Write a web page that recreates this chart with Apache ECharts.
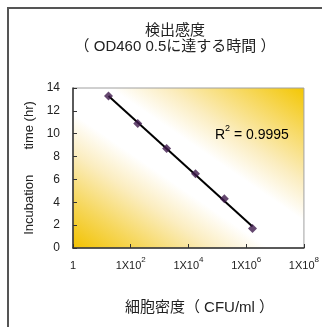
<!DOCTYPE html>
<html><head><meta charset="utf-8">
<script src="https://cdn.jsdelivr.net/npm/echarts@6/dist/echarts.min.js"></script>
<style>html,body{margin:0;padding:0;background:#fff}#c{width:322px;height:327px}</style>
</head><body><div id="c"></div>
<script>
// Data
const cellDensity = [17, 175, 1750, 17500, 175000, 1650000]; // CFU/ml
const incubationTime = [13.3, 10.9, 8.7, 6.5, 4.3, 1.7];     // hr
const xTickExponents = [0, 2, 4, 6, 8];
const yTicks = [0, 2, 4, 6, 8, 10, 12, 14];
const r2Text = '0.9995';

// linear fit of time vs log10(density)
const lx = cellDensity.map(v => Math.log10(v));
const n = lx.length;
const mx = lx.reduce((a,b)=>a+b,0)/n;
const my = incubationTime.reduce((a,b)=>a+b,0)/n;
let sxy=0,sxx=0;
for(let i=0;i<n;i++){sxy+=(lx[i]-mx)*(incubationTime[i]-my);sxx+=(lx[i]-mx)**2;}
const slope=sxy/sxx, icpt=my-slope*mx;
const fitLine=[cellDensity[0],cellDensity[n-1]].map(v=>[v, icpt+slope*Math.log10(v)]);

const FONT = '"Liberation Sans", Arial, "Noto Sans CJK JP", sans-serif';
const chart = echarts.init(document.getElementById('c'), null, {renderer:'canvas'});
const bg = new echarts.graphic.LinearGradient(114.8, 276.8, 264.2, 59.2, [
  {offset:0, color:'#f2c200'},
  {offset:0.15, color:'#f6d75c'},
  {offset:0.3, color:'#fbedc0'},
  {offset:0.42, color:'#ffffff'},
  {offset:0.58, color:'#ffffff'},
  {offset:0.7, color:'#fbedc0'},
  {offset:0.85, color:'#f7d962'},
  {offset:1, color:'#f3c600'}
], true);

chart.setOption({
  animation:false,
  backgroundColor:'#fff',
  grid:{left:73, right:16, top:88, bottom:79, show:true, backgroundColor:bg, borderColor:'#a0a0a0', borderWidth:1},
  title:{
    text:'検出感度\n（ OD460 0.5に達する時間 ）',
    left:170, top:18, textAlign:'center',
    textStyle:{fontFamily:FONT, fontSize:15, fontWeight:'normal', color:'#222', lineHeight:16}
  },
  xAxis:{
    type:'log', logBase:10, min:1, max:1e8, interval:2,
    name:'細胞密度（ CFU/ml ）', nameLocation:'middle', nameGap:52,
    nameTextStyle:{fontFamily:FONT, fontSize:15, color:'#222', padding:[0,0,0,22]},
    axisLine:{lineStyle:{color:'#333', width:1.5}},
    axisTick:{inside:true, length:4, lineStyle:{color:'#333'}},
    splitLine:{show:false},
    axisLabel:{
      fontFamily:FONT, fontSize:11, color:'#222', margin:8,
      formatter:function(v){
        const e=Math.round(Math.log10(v));
        if(e===0) return '{b|1}';
        return '{b|1X10}{s|'+e+'}';
      },
      rich:{b:{fontFamily:FONT, fontSize:11, color:'#222', lineHeight:15, verticalAlign:'bottom'},
            s:{fontFamily:FONT, fontSize:8, color:'#222', lineHeight:15, verticalAlign:'top'}}
    }
  },
  yAxis:{
    type:'value', min:0, max:14, interval:2,
    name:'Incubation\u00a0\u00a0\u00a0\u00a0\u00a0\u00a0\u00a0time (hr)', nameLocation:'middle', nameGap:32,
    nameTextStyle:{fontFamily:FONT, fontSize:13, color:'#222'},
    axisLine:{show:true, lineStyle:{color:'#333', width:1.5}},
    axisTick:{show:true, inside:true, length:4, lineStyle:{color:'#333'}},
    splitLine:{show:false},
    axisLabel:{fontFamily:FONT, fontSize:12, color:'#222', margin:13}
  },
  graphic:[
    {type:'polyline', shape:{points:[[8,327],[8,8],[322,8]]}, style:{stroke:'#555', lineWidth:2, fill:null}, z:10},
    {type:'text', left:215, top:124, style:{
      text:'{a|R}{s|2}{a| = '+r2Text+'}',
      rich:{a:{fontFamily:FONT, fontSize:14, color:'#222', lineHeight:18, verticalAlign:'bottom'},
            s:{fontFamily:FONT, fontSize:9, color:'#222', lineHeight:18, verticalAlign:'top'}}
    }, z:10}
  ],
  series:[
    {type:'line', data:fitLine, symbol:'none', lineStyle:{color:'#000', width:2}, z:2},
    {type:'scatter', data:cellDensity.map((v,i)=>[v,incubationTime[i]]), symbol:'diamond', symbolSize:9,
     itemStyle:{color:'#3e1a4c'}, z:3}
  ]
});
</script></body></html>
